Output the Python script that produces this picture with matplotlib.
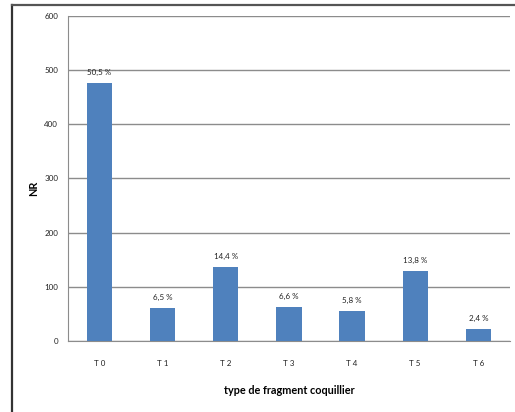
import matplotlib
import matplotlib.pyplot as plt
from matplotlib.lines import Line2D

matplotlib.use("Agg")

categories = ["T 0", "T 1", "T 2", "T 3", "T 4", "T 5", "T 6"]
values = [477, 61, 136, 62, 55, 130, 23]
pct_labels = ["50,5 %", "6,5 %", "14,4 %", "6,6 %", "5,8 %", "13,8 %", "2,4 %"]

plt.rcParams["font.family"] = ["Lato", "DejaVu Sans"]

fig = plt.figure(figsize=(5.15, 4.12), dpi=100)
ax = fig.add_axes([0.132, 0.1723, 0.858, 0.789])

x = range(len(categories))
bars = ax.bar(x, values, width=0.4, color="#4F81BD", zorder=3)
for b, lab in zip(bars, pct_labels):
    ax.annotate(lab, (b.get_x() + b.get_width() / 2, b.get_height()),
                xytext=(0, 5), textcoords="offset points",
                ha="center", va="bottom", fontsize=5.8, color="#222222")

ax.set_xlim(-0.5, len(categories) - 0.5)
ax.set_ylim(0, 600)
ax.set_yticks(range(0, 601, 100))
ax.set_xticks(list(x))
ax.set_xticklabels(categories)
ax.tick_params(axis="x", length=0, pad=13.5, labelsize=5.8, colors="#222222")
ax.tick_params(axis="y", length=0, pad=7, labelsize=5.8, colors="#222222")
ax.yaxis.grid(True, color="#8c8c8c", linewidth=1, zorder=0)
for s in ["top", "right"]:
    ax.spines[s].set_visible(False)
ax.spines["left"].set_color("#8c8c8c")
ax.spines["bottom"].set_color("#8c8c8c")

ax.set_xlabel("type de fragment coquillier", fontsize=7.8, fontweight="bold")
ax.xaxis.set_label_coords(0.5, -0.135)
ax.set_ylabel("NR", fontsize=7.8, fontweight="bold")
ax.yaxis.set_label_coords(-0.066, 0.47)

# outer chart frame (left and top edges)
fig.add_artist(Line2D([12 / 515, 12 / 515], [0, 1 - 5 / 412],
                      transform=fig.transFigure, color="#333333", lw=1.6))
fig.add_artist(Line2D([12 / 515, 1], [1 - 5 / 412, 1 - 5 / 412],
                      transform=fig.transFigure, color="#555555", lw=1.6))

fig.savefig("out.png", dpi=100)
